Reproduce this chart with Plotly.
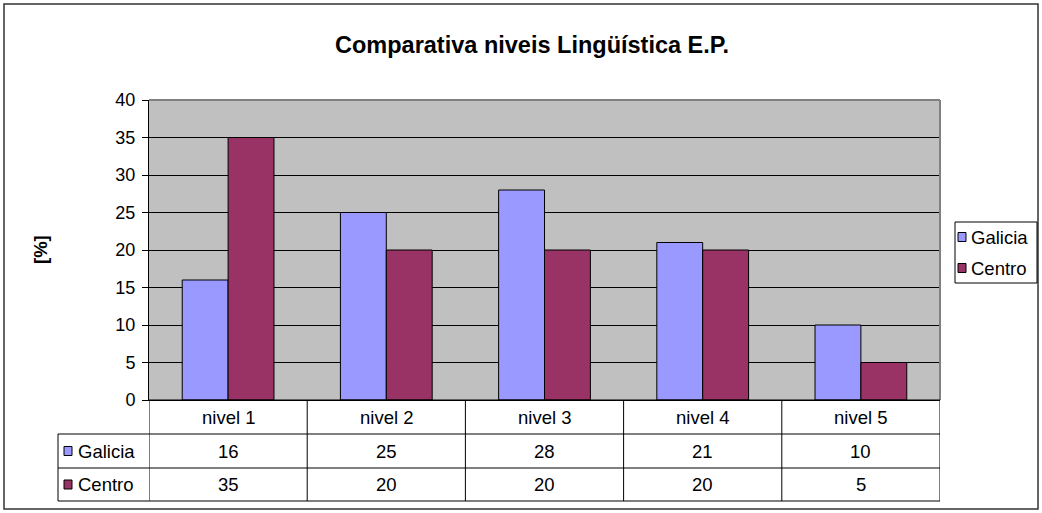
import plotly.graph_objects as go

categories = ["nivel 1", "nivel 2", "nivel 3", "nivel 4", "nivel 5"]
series_names = ["Galicia", "Centro"]
galicia = [16, 25, 28, 21, 10]
centro = [35, 20, 20, 20, 5]
series_values = [galicia, centro]
series_colors = ["#9999FF", "#993366"]
y_ticks = [0, 5, 10, 15, 20, 25, 30, 35, 40]
title_text = "Comparativa niveis Lingüística E.P."
y_title = "[%]"

W, H = 1042, 513
L, R, T, B = 149, 940, 100, 400
pw, ph = R - L, B - T

def px_x(x):
    return (x - L) / pw

def px_y(y):
    return (B - y) / ph

FONT = "Arial, Liberation Sans, sans-serif"
fs = 18.5

fig = go.Figure()
for name, vals, col in zip(series_names, series_values, series_colors):
    fig.add_trace(go.Bar(x=categories, y=vals, name=name,
                         marker=dict(color=col, line=dict(color="black", width=1)),
                         showlegend=False))

shapes = []
annotations = []

# outer chart border
shapes.append(dict(type="rect", xref="paper", yref="paper",
                   x0=px_x(4), x1=px_x(1038), y0=px_y(509), y1=px_y(4),
                   line=dict(color="#333333", width=1.5), layer="below"))
# plot area top/right border (gray)
shapes.append(dict(type="line", xref="paper", yref="paper", x0=0, x1=1, y0=1, y1=1,
                   line=dict(color="#808080", width=2)))
shapes.append(dict(type="line", xref="paper", yref="paper", x0=1, x1=1, y0=0, y1=1,
                   line=dict(color="#808080", width=2)))

# data table
rows_y = [400, 434, 468, 501]
tbl_col = "#000000"
shapes.append(dict(type="line", xref="paper", yref="paper", x0=0, x1=1,
                   y0=px_y(rows_y[0]), y1=px_y(rows_y[0]), line=dict(color=tbl_col, width=1)))
for yy in rows_y[1:]:
    shapes.append(dict(type="line", xref="paper", yref="paper", x0=px_x(58), x1=1,
                       y0=px_y(yy), y1=px_y(yy), line=dict(color=tbl_col, width=1)))
shapes.append(dict(type="line", xref="paper", yref="paper", x0=px_x(58), x1=px_x(58),
                   y0=px_y(rows_y[1]), y1=px_y(rows_y[3]), line=dict(color=tbl_col, width=1)))
for i in range(len(categories) + 1):
    shapes.append(dict(type="line", xref="x", yref="paper", x0=i - 0.5, x1=i - 0.5,
                       y0=px_y(rows_y[0]), y1=px_y(rows_y[3]), line=dict(color=tbl_col, width=1)))
for i, c in enumerate(categories):
    annotations.append(dict(x=i, y=px_y((rows_y[0] + rows_y[1]) / 2), xref="x", yref="paper",
                            text=c, showarrow=False, font=dict(size=fs, color="black", family=FONT),
                            xanchor="center", yanchor="middle"))
for r, (name, vals, col) in enumerate(zip(series_names, series_values, series_colors)):
    y0, y1 = rows_y[r + 1], rows_y[r + 2]
    yc = (y0 + y1) / 2
    shapes.append(dict(type="rect", xref="paper", yref="paper",
                       x0=px_x(64), x1=px_x(72), y0=px_y(yc + 4.5), y1=px_y(yc - 4.5),
                       fillcolor=col, line=dict(color="black", width=1)))
    annotations.append(dict(x=px_x(76), y=px_y(yc), xref="paper", yref="paper", text=name,
                            showarrow=False, xanchor="left", yanchor="middle",
                            font=dict(size=fs, color="black", family=FONT)))
    for i, v in enumerate(vals):
        annotations.append(dict(x=i, y=px_y(yc), xref="x", yref="paper", text=str(v),
                                showarrow=False, xanchor="center", yanchor="middle",
                                font=dict(size=fs, color="black", family=FONT)))

# legend (manual)
lg_x0, lg_x1, lg_y0, lg_y1 = 955, 1037, 222, 283
shapes.append(dict(type="rect", xref="paper", yref="paper",
                   x0=px_x(lg_x0), x1=px_x(lg_x1), y0=px_y(lg_y1), y1=px_y(lg_y0),
                   fillcolor="white", line=dict(color="black", width=1)))
for k, (name, col) in enumerate(zip(series_names, series_colors)):
    yc = 237 + k * 31
    shapes.append(dict(type="rect", xref="paper", yref="paper",
                       x0=px_x(958), x1=px_x(966), y0=px_y(yc + 4.5), y1=px_y(yc - 4.5),
                       fillcolor=col, line=dict(color="black", width=1)))
    annotations.append(dict(x=px_x(969), y=px_y(yc), xref="paper", yref="paper", text=name,
                            showarrow=False, xanchor="left", yanchor="middle",
                            font=dict(size=fs, color="black", family=FONT)))

annotations.append(dict(x=px_x(40), y=0.5, xref="paper", yref="paper", text="<b>" + y_title + "</b>",
                        showarrow=False, textangle=-90, xanchor="center", yanchor="middle",
                        font=dict(size=fs, color="black", family=FONT)))

fig.update_layout(
    width=W, height=H,
    margin=dict(l=L, r=W - R, t=T, b=H - B, autoexpand=False),
    paper_bgcolor="white", plot_bgcolor="#C0C0C0",
    barmode="group", bargap=0.42, bargroupgap=0,
    title=dict(text="<b>" + title_text + "</b>", x=532 / W, xanchor="center",
               y=1 - 45 / H, yanchor="middle", font=dict(size=23.5, color="black", family=FONT)),
    font=dict(family=FONT, color="black"),
    xaxis=dict(range=[-0.5, len(categories) - 0.5], showticklabels=False, showgrid=False,
               showline=True, linecolor="black", linewidth=1, ticks="", zeroline=False,
               fixedrange=True),
    yaxis=dict(range=[0, 40], tickvals=y_ticks, ticktext=[str(t) for t in y_ticks],
               showgrid=True, gridcolor="black", gridwidth=1, zeroline=False,
               showline=True, linecolor="black", linewidth=1, ticks="outside", ticklen=6,
               tickcolor="black", tickfont=dict(size=18, color="black", family=FONT),
               ticklabelstandoff=3),
    shapes=shapes, annotations=annotations, showlegend=False,
)

fig.write_html("out.html", config={"displayModeBar": False},
               post_script="document.body.style.margin='0';document.body.style.overflow='hidden';")
